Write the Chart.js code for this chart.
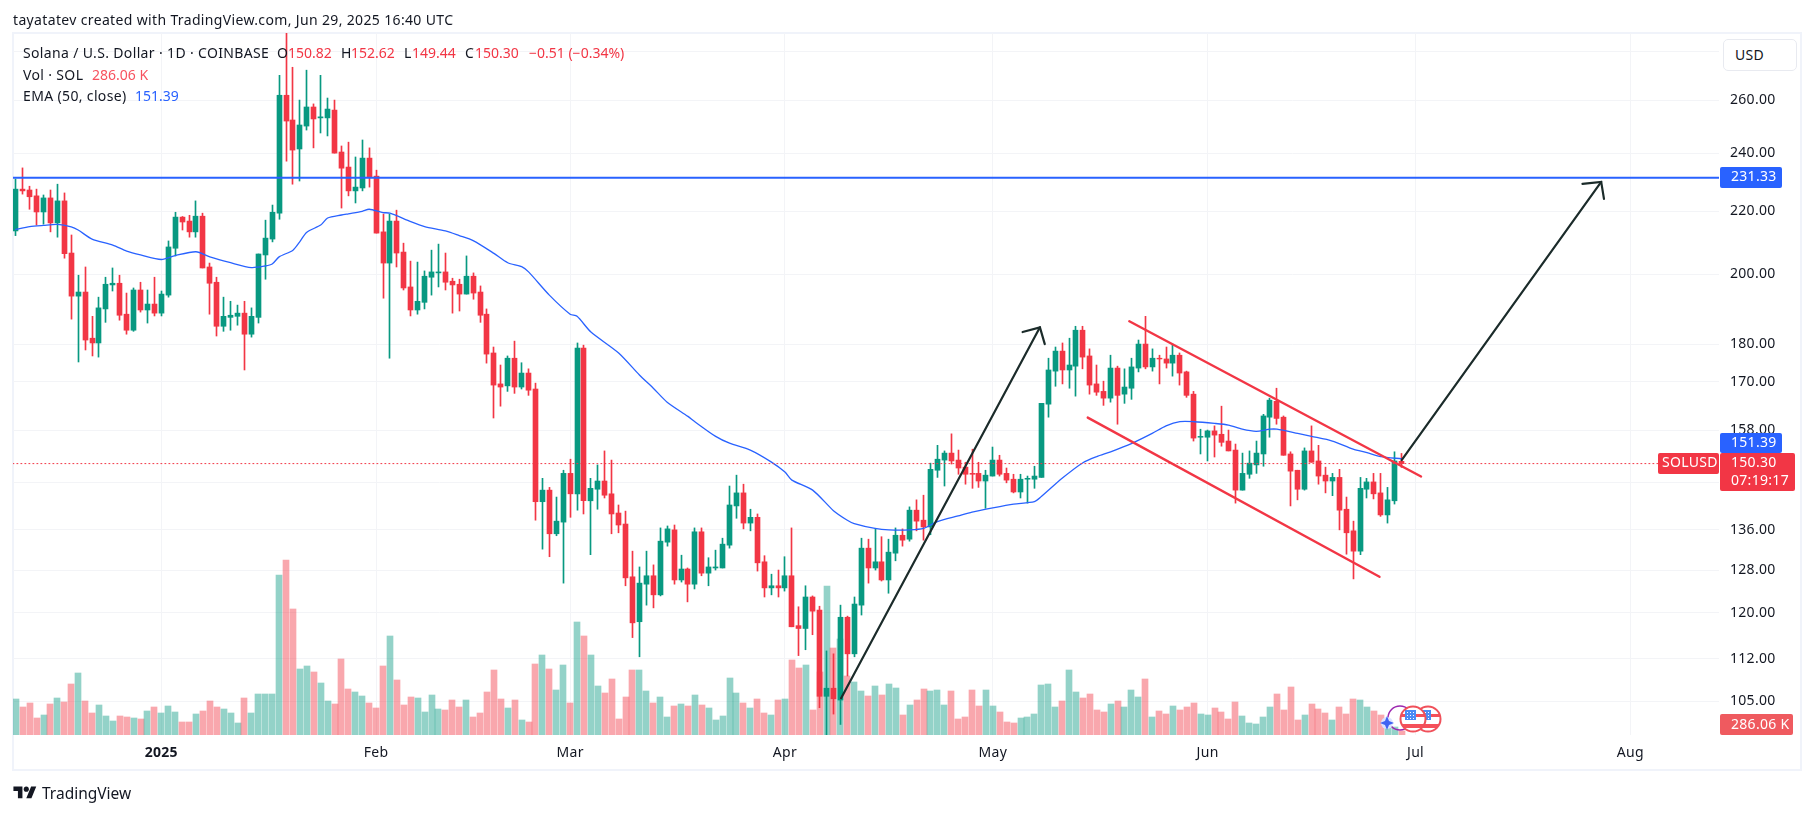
<!DOCTYPE html>
<html>
<head>
<meta charset="utf-8">
<title>SOLUSD</title>
<script src="https://cdn.jsdelivr.net/npm/chart.js@4"></script>
<style>
  html,body{margin:0;padding:0;background:#fff;}
  body{width:1814px;height:814px;position:relative;overflow:hidden;font-family:"Noto Sans",sans-serif;color:#131722;}
  canvas{position:absolute;left:0;top:0;}
  .t{position:absolute;white-space:nowrap;font-size:14px;line-height:18px;letter-spacing:.35px;}
  .red{color:#F23645;letter-spacing:0;}
  .pink{color:#F7525F;letter-spacing:0;}
  .blue{color:#2962FF;letter-spacing:0;}
  #usd{position:absolute;left:1723px;top:39px;width:72px;height:30px;border:1px solid #E8EAF0;border-radius:5px;background:#fff;font-size:14px;line-height:30px;box-sizing:content-box;text-indent:11px;letter-spacing:.3px;}
  #logo{position:absolute;left:13px;top:784px;}
  #logotext{position:absolute;left:42px;top:783px;font-size:15.5px;line-height:20px;}
</style>
</head>
<body>
<canvas id="chart" width="1814" height="814"></canvas>

<div class="t" style="left:13px;top:11px">tayatatev created with TradingView.com, Jun 29, 2025 16:40 UTC</div>

<div class="t" style="left:23px;top:44px">Solana / U.S. Dollar · 1D · COINBASE</div>
<div class="t" style="left:277px;top:44px">O</div><div class="t red" style="left:288px;top:44px">150.82</div>
<div class="t" style="left:341px;top:44px">H</div><div class="t red" style="left:351px;top:44px">152.62</div>
<div class="t" style="left:404px;top:44px">L</div><div class="t red" style="left:412px;top:44px">149.44</div>
<div class="t" style="left:465px;top:44px">C</div><div class="t red" style="left:475px;top:44px">150.30</div>
<div class="t red" style="left:529px;top:44px">−0.51 (−0.34%)</div>
<div class="t" style="left:23px;top:66px">Vol · SOL</div><div class="t pink" style="left:92px;top:66px">286.06 K</div>
<div class="t" style="left:23px;top:87px">EMA (50, close)</div><div class="t blue" style="left:135px;top:87px">151.39</div>

<div id="usd">USD</div>

<svg id="logo" width="24" height="18" viewBox="0 0 36 28"><path fill="#131722" d="M14 22H7V11H0V4h14v18zM28 22h-8l7.5-18h8L28 22z"/><circle fill="#131722" cx="20" cy="8" r="4"/></svg>
<div id="logotext">TradingView</div>

<script>
// daily candles, 11 Dec 2024 .. 29 Jun 2025
const opens = [
213.5,227.4,227.1,225.1,219.7,224.4,216.1,223.4,206.5,193.5,
194.7,181.6,180.3,189.8,196.8,197.3,188.3,183.8,195.3,189.5,
191.2,188.6,193.8,208.0,218.0,216.7,213.2,218.3,202.2,197.6,
184.9,187.4,187.7,188.6,182.7,187.4,205.9,210.9,219.3,262.0,
252.4,241.6,250.1,257.4,253.2,253.2,256.2,240.5,235.1,226.8,
227.8,238.3,231.9,213.2,203.4,216.7,206.8,196.2,189.5,191.7,
199.1,200.4,200.7,197.9,197.0,194.1,199.4,194.7,188.3,177.6,
169.5,169.0,176.2,168.7,172.3,168.2,141.9,144.4,135.2,137.6,
148.1,143.6,178.9,142.1,144.6,146.4,143.6,139.5,137.2,126.7,
118.4,125.3,126.9,123.3,133.5,136.0,126.1,128.2,125.3,135.6,
127.4,128.4,128.4,132.9,141.0,143.8,137.4,138.6,129.6,124.6,
125.0,124.6,126.9,117.7,117.2,122.9,120.5,105.8,107.1,105.2,
119.2,112.8,121.4,132.3,128.4,129.6,126.1,131.3,134.9,134.1,
140.1,138.0,136.6,148.8,151.1,152.7,151.1,149.5,148.1,148.1,
146.4,147.5,151.1,148.1,146.8,144.0,146.8,146.8,147.2,164.4,
172.8,178.1,173.1,174.1,183.8,176.8,169.5,167.6,165.9,173.6,
166.9,168.4,173.6,180.0,173.9,176.2,176.0,174.9,177.0,172.6,
166.9,156.4,156.4,157.9,157.1,155.5,153.4,144.4,147.9,150.0,
152.5,161.2,165.1,161.2,152.5,148.8,144.6,153.2,150.9,147.7,
146.4,147.2,140.3,135.8,131.7,144.6,146.2,143.8,139.1,142.1,
150.82];
const highs = [
230.9,234.8,228.4,227.4,225.4,227.1,229.1,226.1,212.2,199.7,
202.2,187.7,193.2,199.1,201.9,199.7,194.4,195.9,197.6,195.3,
199.1,195.0,210.3,219.6,218.2,218.6,223.4,219.3,203.4,199.1,
193.2,192.0,190.9,192.0,190.1,206.2,217.0,222.0,270.0,293.0,
273.3,260.1,272.1,258.6,270.0,260.9,260.1,242.7,244.1,238.7,
244.9,242.0,234.0,219.0,219.0,220.3,209.6,204.0,203.7,201.0,
207.4,209.3,206.5,198.8,198.5,205.6,200.4,196.5,189.8,179.2,
174.4,176.8,180.8,175.0,173.4,169.7,147.0,145.0,142.9,148.8,
151.3,180.3,179.7,147.0,150.0,153.2,151.1,141.2,139.9,131.7,
128.6,131.7,129.0,136.4,136.8,137.0,130.9,128.4,136.4,136.4,
130.4,131.9,134.3,145.3,147.7,145.7,140.3,139.3,130.8,127.2,
128.0,130.6,136.4,121.1,125.0,123.1,121.2,113.3,112.8,121.4,
119.4,122.9,134.3,134.1,136.2,134.6,134.1,136.4,136.2,140.8,
142.3,143.3,150.4,154.5,153.2,157.2,153.4,150.6,153.6,150.6,
148.8,154.1,152.2,149.3,147.9,147.9,147.5,149.7,164.6,176.2,
179.2,180.3,181.6,184.9,184.9,178.7,174.4,170.2,177.0,174.1,
173.4,176.2,181.1,187.7,178.7,177.0,179.2,180.0,177.6,172.8,
167.6,158.3,158.1,159.1,163.9,158.1,154.8,152.7,153.2,155.5,
161.9,165.9,168.4,161.5,153.0,148.8,153.9,159.1,154.5,149.5,
148.1,149.0,142.9,137.8,147.2,147.0,148.1,148.1,145.0,153.0,
152.62];
const lows = [
212.0,225.7,220.6,215.4,215.7,213.2,211.5,204.9,186.9,175.2,
178.4,176.8,176.5,186.0,195.0,186.6,182.7,183.5,188.9,185.8,
187.8,187.8,193.2,205.6,213.8,211.5,211.5,201.9,188.3,182.2,
183.5,183.8,185.2,173.1,181.9,185.8,198.5,210.0,217.3,237.2,
229.1,230.2,248.6,242.0,247.5,246.4,240.1,221.0,225.1,222.7,
226.8,228.1,212.8,192.9,176.2,202.2,195.3,187.8,188.3,189.8,
193.8,196.2,195.3,188.6,189.2,194.1,192.6,186.0,174.9,161.0,
163.9,167.6,167.1,168.2,166.6,138.0,132.1,130.6,134.8,125.5,
138.6,140.1,139.3,131.0,140.3,142.7,135.2,135.4,125.0,115.6,
112.3,121.4,120.9,123.1,132.7,125.3,125.7,122.0,124.4,126.9,
125.0,128.0,128.4,132.3,138.4,136.2,135.8,127.8,122.9,123.3,
122.9,124.0,117.5,112.5,113.5,116.1,104.0,97.0,103.0,101.4,
109.1,112.3,119.6,125.5,128.0,125.9,123.6,129.8,132.7,133.7,
135.8,133.9,135.0,147.2,145.3,150.2,147.9,145.7,144.8,145.0,
140.5,147.5,147.5,146.0,143.8,142.7,141.6,144.8,147.2,161.2,
168.9,169.5,168.4,166.4,173.4,166.9,166.6,164.1,164.9,159.5,
164.6,165.6,172.6,173.4,172.8,169.5,173.6,171.5,169.2,166.1,
155.5,152.5,150.9,151.8,154.3,153.2,141.6,144.4,147.0,148.1,
149.7,156.4,159.5,152.2,141.0,142.3,144.4,150.6,145.7,143.8,
143.2,136.0,131.1,126.3,131.0,142.7,142.5,138.8,137.4,141.4,
149.44];
const closes = [
227.4,226.8,224.8,219.7,224.4,216.1,223.4,206.3,193.5,194.7,
181.1,180.3,190.1,197.0,197.3,188.0,183.8,195.3,189.5,191.2,
188.6,194.1,208.4,218.0,216.4,213.2,218.3,201.9,197.3,184.9,
187.7,188.0,188.6,182.7,187.7,206.2,211.2,219.6,262.0,252.0,
241.2,250.5,257.4,252.8,253.6,256.6,240.1,234.7,226.8,228.1,
238.3,231.5,212.8,203.4,216.7,206.5,195.9,189.5,192.0,199.4,
200.7,200.7,197.6,196.8,194.1,199.4,194.4,188.0,177.3,169.2,
168.7,176.2,168.7,172.3,167.9,141.9,144.4,135.2,137.8,148.1,
143.6,178.9,142.1,144.8,146.4,143.3,139.3,137.0,126.5,118.2,
125.5,126.9,123.3,133.7,136.2,126.1,128.2,125.3,135.6,127.4,
128.6,128.6,133.1,141.2,143.8,137.4,138.6,129.4,124.6,125.0,
124.6,126.9,117.5,117.2,122.9,120.3,105.8,107.1,105.4,119.2,
112.8,121.6,132.3,128.4,129.6,126.1,131.5,134.9,133.9,140.1,
137.8,136.6,149.0,151.3,152.7,150.9,149.3,147.9,147.9,146.4,
147.7,151.1,147.9,146.6,144.0,146.8,147.0,147.5,164.6,173.1,
178.1,173.1,174.4,183.8,176.5,169.2,167.4,165.9,173.6,166.6,
168.7,173.9,180.0,173.9,176.2,176.0,174.9,177.0,172.3,166.6,
156.2,156.6,157.9,156.9,155.2,153.2,144.4,148.1,150.4,152.7,
161.5,165.4,160.9,152.2,148.6,144.6,153.2,150.6,147.5,146.4,
147.2,140.1,135.4,131.7,144.8,146.2,143.6,139.1,142.3,150.9,
150.30];
// volume in thousands of SOL
const volumes = [
2520,1960,2240,1190,1400,2170,2590,2310,3570,4340,
2380,1540,2100,1330,980,1330,1260,1190,1120,1680,
1960,1540,2030,1610,910,910,1470,1680,2380,1960,
1820,1540,840,2590,1540,2870,2870,2870,11200,12250,
8820,4620,4830,4410,3640,2380,2170,5320,3220,3010,
2730,2240,1890,4830,6930,3850,2100,2660,2590,1610,
2800,1820,1750,2450,1960,2450,1260,1540,3010,4550,
2520,1890,2450,1050,910,4970,5600,4620,3150,4900,
2240,7910,6930,5600,3430,2940,3920,1120,2660,4550,
4550,3080,2240,2660,1260,2030,2170,2030,2800,2100,
1890,1050,1330,3990,2940,2240,1890,2520,1540,1400,
2450,2520,5250,4690,4900,1750,4410,10430,6090,6720,
4130,3710,3080,2730,3430,2800,3570,3290,1400,2100,
2450,3220,3080,3150,2100,3080,1120,1260,3150,2030,
3150,2030,1610,910,840,1190,1260,1470,3500,3570,
1960,2380,4550,3010,2590,2870,1750,1610,2170,2380,
1960,3150,2660,3920,1260,1680,1470,2030,1750,1960,
2240,1470,1400,1890,1610,1120,2310,1330,840,770,
1260,1960,2870,1750,3360,1050,1400,2170,1820,1540,
1050,1960,1470,2520,2450,1960,1680,1400,700,560,
286.06];

// EMA(50) read at these candle numbers
const emaDays = [0,2,4,6,8,9,11,14,16,18,21,23,26,28,31,34,36,37,38,40,41,42,44,45,47,48,50,51,53,54,57,59,62,64,66,69,71,73,74,77,80,81,83,87,90,92,94,97,98,101,103,106,109,111,112,115,118,120,121,124,126,129,131,133,136,138,141,144,147,148,151,154,156,158,161,164,166,168,170,173,175,177,179,181,182,185,187,190,193,195,197,200];
const emaValues = [214.0,214.9,215.3,215.6,214.8,213.8,210.9,209.0,207.1,205.9,204.5,205.7,206.9,205.3,203.5,202.0,202.5,203.1,205.3,207.4,210.1,213.1,215.4,217.7,218.7,219.1,219.9,220.6,219.5,219.3,216.5,214.9,213.5,212.0,210.4,206.4,203.5,202.3,200.7,193.8,188.3,187.7,183.3,177.6,171.8,168.4,164.9,161.4,160.1,156.6,155.0,153.4,150.7,148.4,146.6,144.4,140.0,138.0,137.3,136.3,136.0,136.0,136.3,137.7,138.9,139.7,140.6,141.4,141.9,143.0,147.0,150.5,151.9,153.0,154.9,157.3,159.1,160.1,160.1,159.7,159.3,158.3,157.8,158.3,158.3,157.3,156.6,155.5,153.6,152.8,151.9,151.39];

// drawings, [candle number, price]
const resistanceLine = [[-1,231.33],[247,231.33]];
const lastPriceLine = [[-1,150.30],[247,150.30]];
const channelUpper = [[160.7,186.3],[202.8,147.4]];
const channelLower = [[154.7,161.1],[196.8,126.7]];
const arrowOne = [[119.1,105.5],[147.8,184.6]];
const arrowOneHead = [[145.3,183.3],[147.8,184.6],[148.5,180.0]];
const arrowTwo = [[200.0,151.1],[228.8,229.9]];
const arrowTwoHead = [[226.1,229.2],[228.8,229.9],[229.2,224.1]];

const priceTicks = [105,112,120,128,136,146,158,170,180,200,220,240,260,280];
const monthDays = [21,52,80,111,141,172,202,233];
const monthLabels = ['2025','Feb','Mar','Apr','May','Jun','Jul','Aug'];

const UP = '#089981', DOWN = '#F23645';
const FONT = '"Noto Sans", sans-serif';
const pts = (a) => a.map(p => ({x:p[0], y:p[1]}));
const isUp = (i) => closes[i] >= opens[i];

function drawLine(data, color, width, order, dash, tension){
  return {type:'line', data:pts(data), yAxisID:'y', borderColor:color, borderWidth:width, pointRadius:0, tension:tension||0, order, borderDash:dash||[], borderCapStyle:'round'};
}

function tag(ctx, x, y, w, h, bg, lines){
  ctx.fillStyle = bg;
  ctx.beginPath();
  ctx.roundRect(x, y, w, h, 2);
  ctx.fill();
  ctx.fillStyle = '#fff';
  ctx.textBaseline = 'middle';
  ctx.textAlign = 'left';
  lines.forEach(l => { ctx.font = '14px ' + FONT; ctx.fillText(l.text, l.x, l.y); });
}

function flag(ctx, cx, cy, r){
  ctx.save();
  ctx.beginPath(); ctx.arc(cx, cy, r, 0, Math.PI*2); ctx.fillStyle='#fff'; ctx.fill();
  ctx.clip();
  ctx.fillStyle='#F5505A';
  ctx.fillRect(cx-r, cy-5, r*2, 3);
  ctx.fillRect(cx-r, cy+5, r*2, 4);
  ctx.fillStyle='#4C8BF5';
  ctx.fillRect(cx-8, cy-9, 11, 10);
  ctx.fillStyle='#fff';
  for(let a=0;a<3;a++) for(let b=0;b<3;b++) ctx.fillRect(cx-6+a*3, cy-7+b*3, 1, 1);
  ctx.restore();
  ctx.beginPath(); ctx.arc(cx, cy, r, 0, Math.PI*2); ctx.strokeStyle='#F0505A'; ctx.lineWidth=2; ctx.stroke();
}

const overlays = {
  id:'overlays',
  afterDatasetsUpdate(chart){
    // snap bars to whole pixels so the candles stay crisp
    chart.getSortedVisibleDatasetMetas().forEach(m => {
      if(m.type !== 'bar') return;
      const wide = m.order === 10;
      m.data.forEach(el => { el.x = wide ? Math.round(el.x) : Math.floor(el.x) + 0.5; });
    });
  },
  beforeDraw(chart){
    const c = chart.ctx;
    c.letterSpacing = '0.3px';
    c.save();
    c.strokeStyle = '#F0F3FA';
    c.lineWidth = 2;
    c.strokeRect(13, 33, 1788, 737);
    c.restore();
  },
  afterDraw(chart){
    const c = chart.ctx;
    c.save();
    tag(c,1720,167,62,21,'#2962FF',[{text:'231.33',x:1731,y:177.5}]);
    tag(c,1720,433,62,20,'#2962FF',[{text:'151.39',x:1731,y:443}]);
    tag(c,1720,453,75,38,'#F23645',[{text:'150.30',x:1731,y:463},{text:'07:19:17',x:1731,y:481}]);
    tag(c,1658,453,61,21,'#F23645',[{text:'SOLUSD',x:1662,y:463.5}]);
    tag(c,1720,714,73,21,'#EF5A5F',[{text:'286.06 K',x:1731,y:725}]);
    // calendar event markers at the end of the volume pane
    c.beginPath(); c.arc(1400,718,12,0,Math.PI*2); c.strokeStyle='#9C27B0'; c.lineWidth=1.5; c.stroke();
    c.fillStyle='#DCE3FF';
    c.beginPath(); c.arc(1387,723,6,0,Math.PI*2); c.fill();
    c.fillStyle='#3F63F2';
    c.beginPath(); c.moveTo(1387,716); c.lineTo(1389,721); c.lineTo(1394,723); c.lineTo(1389,725); c.lineTo(1387,730); c.lineTo(1385,725); c.lineTo(1380,723); c.lineTo(1385,721); c.closePath(); c.fill();
    flag(c,1428,719,12.5);
    flag(c,1413,719,12.5);
    c.restore();
  }
};

new Chart(document.getElementById('chart').getContext('2d'), {
  data:{
    datasets:[
      {type:'bar', yAxisID:'v', order:10, barThickness:6, grouped:false,
        data:volumes.map((v,i)=>({x:i,y:v})),
        backgroundColor:volumes.map((v,i)=> isUp(i) ? 'rgba(8,153,129,.44)' : 'rgba(242,54,69,.44)')},
      {type:'bar', yAxisID:'y', order:9, barThickness:1, grouped:false,
        data:highs.map((h,i)=>({x:i,y:[lows[i],h]})),
        backgroundColor:highs.map((h,i)=> isUp(i) ? UP : DOWN)},
      {type:'bar', yAxisID:'y', order:8, barThickness:5, grouped:false,
        data:opens.map((o,i)=>({x:i,y:[o,closes[i]]})),
        backgroundColor:opens.map((o,i)=> isUp(i) ? UP : DOWN)},
      drawLine(emaDays.map((d,i)=>[d,emaValues[i]]), '#2962FF', 1.3, 7, null, 0.25),
      drawLine(lastPriceLine, DOWN, 1, 6, [1,3]),
      drawLine(resistanceLine, '#2962FF', 2, 5),
      drawLine(channelUpper, DOWN, 2.4, 4),
      drawLine(channelLower, DOWN, 2.4, 4),
      drawLine(arrowOne, '#1B2B2A', 2.2, 3),
      drawLine(arrowOneHead, '#1B2B2A', 2.2, 3),
      drawLine(arrowTwo, '#1B2B2A', 2.2, 3),
      drawLine(arrowTwoHead, '#1B2B2A', 2.2, 3)
    ]
  },
  options:{
    responsive:false,
    animation:false,
    devicePixelRatio:1,
    layout:{padding:{left:13,right:13,top:33,bottom:44}},
    plugins:{legend:{display:false},tooltip:{enabled:false}},
    scales:{
      x:{
        type:'linear', min:-0.404, max:245.8, offset:false,
        grid:{color:'#F3F4F7',offset:false,drawTicks:false},
        border:{display:false},
        afterBuildTicks(s){ s.ticks = monthDays.map(v=>({value:v})); },
        afterFit(s){ s.height = 35; },
        ticks:{
          autoSkip:false, maxRotation:0, padding:10, color:'#131722',
          font:(ctx)=>({family:FONT,size:14,weight:ctx.index===0?'bold':'normal'}),
          callback:(v)=>monthLabels[monthDays.indexOf(v)]
        }
      },
      y:{
        type:'logarithmic', position:'right', min:99.8, max:287.8,
        grid:{color:'#F3F4F7',drawTicks:false},
        border:{display:false},
        afterBuildTicks(s){ s.ticks = priceTicks.map(v=>({value:v})); },
        afterFit(s){ s.width = 82; },
        ticks:{
          autoSkip:false, padding:11, color:'#131722', font:{family:FONT,size:14},
          callback:(v)=>v.toFixed(2)
        }
      },
      v:{type:'linear', display:false, min:0, max:49140}
    }
  },
  plugins:[overlays]
});
</script>
</body>
</html>
